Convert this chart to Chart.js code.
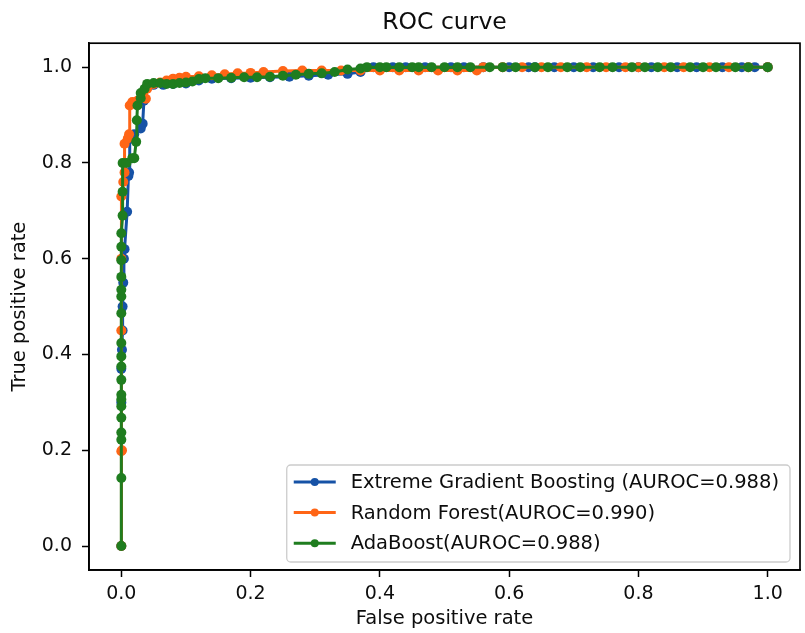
<!DOCTYPE html>
<html>
<head>
<meta charset="utf-8">
<script src="https://cdn.jsdelivr.net/npm/chart.js@4.4.0/dist/chart.umd.min.js"></script>
<style>
  html, body { margin: 0; padding: 0; background: #fff; }
  #wrap { width: 805px; height: 633px; }
</style>
</head>
<body>
<div id="wrap"><canvas id="canvasRoc" width="805" height="633"></canvas></div>
<script>
const seriesLabels = [
    "Extreme Gradient Boosting (AUROC=0.988)",
    "Random Forest(AUROC=0.990)",
    "AdaBoost(AUROC=0.988)"
]
const seriesColors = ["#1652a6", "#ff6516", "#1f7d1f"]
const tickValues = [0, 0.2, 0.4, 0.6, 0.8, 1.0]

// Extreme Gradient Boosting
const fprXgb = [0, 0, 0, 0.001, 0.002, 0.002, 0.003, 0.004, 0.005, 0.009, 0.011, 0.012, 0.013, 0.02, 0.03, 0.033, 0.035, 0.038, 0.042, 0.05, 0.065, 0.08, 0.1, 0.12, 0.14, 0.17, 0.2, 0.23, 0.26, 0.29, 0.32, 0.35, 0.37, 0.39, 0.42, 0.44, 0.47, 0.51, 0.53, 0.56, 0.6, 0.63, 0.64, 0.67, 0.7, 0.73, 0.77, 0.8, 0.82, 0.86, 0.89, 0.93, 0.96, 0.98, 1.0]
const tprXgb = [0, 0.3, 0.37, 0.41, 0.45, 0.5, 0.55, 0.6, 0.62, 0.698, 0.773, 0.78, 0.85, 0.86, 0.872, 0.882, 0.93, 0.955, 0.962, 0.963, 0.963, 0.965, 0.966, 0.972, 0.976, 0.977, 0.978, 0.979, 0.98, 0.982, 0.984, 0.986, 0.99, 1.0, 1.0, 1.0, 1.0, 1.0, 1.0, 1.0, 1.0, 1.0, 1.0, 1.0, 1.0, 1.0, 1.0, 1.0, 1.0, 1.0, 1.0, 1.0, 1.0, 1.0, 1.0]

// Random Forest
const fprRf = [0, 0, 0.001, 0, 0, 0, 0.003, 0.005, 0.005, 0.01, 0.012, 0.013, 0.017, 0.025, 0.038, 0.04, 0.05, 0.06, 0.07, 0.08, 0.09, 0.1, 0.12, 0.14, 0.16, 0.18, 0.2, 0.22, 0.25, 0.28, 0.31, 0.34, 0.37, 0.4, 0.43, 0.46, 0.49, 0.52, 0.55, 0.56, 0.59, 0.62, 0.65, 0.68, 0.72, 0.75, 0.78, 0.8, 0.84, 0.87, 0.91, 0.94, 0.97, 1.0]
const tprRf = [0, 0.198, 0.2, 0.45, 0.6, 0.73, 0.76, 0.78, 0.84, 0.851, 0.86, 0.92, 0.927, 0.93, 0.934, 0.955, 0.965, 0.968, 0.972, 0.976, 0.978, 0.98, 0.981, 0.983, 0.985, 0.987, 0.988, 0.99, 0.992, 0.993, 0.993, 0.993, 0.993, 0.993, 0.993, 0.993, 0.993, 0.993, 0.993, 1.0, 1.0, 1.0, 1.0, 1.0, 1.0, 1.0, 1.0, 1.0, 1.0, 1.0, 1.0, 1.0, 1.0, 1.0]

// AdaBoost
const fprAda = [0, 0, 0, 0, 0, 0, 0, 0, 0, 0, 0, 0, 0, 0, 0, 0, 0, 0, 0, 0.002, 0.002, 0.002, 0.008, 0.017, 0.02, 0.023, 0.024, 0.025, 0.03, 0.03, 0.036, 0.04, 0.05, 0.06, 0.07, 0.08, 0.09, 0.1, 0.11, 0.12, 0.13, 0.15, 0.17, 0.19, 0.21, 0.23, 0.25, 0.27, 0.29, 0.31, 0.33, 0.35, 0.37, 0.38, 0.4, 0.41, 0.43, 0.45, 0.46, 0.48, 0.5, 0.52, 0.54, 0.57, 0.59, 0.61, 0.64, 0.66, 0.69, 0.71, 0.74, 0.76, 0.79, 0.81, 0.83, 0.85, 0.88, 0.9, 0.92, 0.95, 0.97, 1.0]
const tprAda = [0, 0.142, 0.222, 0.237, 0.268, 0.292, 0.306, 0.316, 0.347, 0.375, 0.396, 0.424, 0.486, 0.521, 0.535, 0.562, 0.597, 0.625, 0.653, 0.69, 0.74, 0.8, 0.8, 0.81, 0.81, 0.844, 0.889, 0.92, 0.935, 0.946, 0.955, 0.965, 0.967, 0.967, 0.965, 0.965, 0.967, 0.968, 0.97, 0.975, 0.977, 0.977, 0.978, 0.979, 0.979, 0.98, 0.982, 0.984, 0.986, 0.987, 0.99, 0.995, 0.997, 1.0, 1.0, 1.0, 1.0, 1.0, 1.0, 1.0, 1.0, 1.0, 1.0, 1.0, 1.0, 1.0, 1.0, 1.0, 1.0, 1.0, 1.0, 1.0, 1.0, 1.0, 1.0, 1.0, 1.0, 1.0, 1.0, 1.0, 1.0, 1.0]

const FONT = '"DejaVu Sans", sans-serif'
const TEXT_COLOR = "#0d0d0d"

ToPoints = (xs, ys) => xs.map((x, i) => ({ x, y: ys[i] }))

MakeDataset = (idx, xs, ys) => ({
    label: seriesLabels[idx],
    data: ToPoints(xs, ys),
    borderColor: seriesColors[idx],
    backgroundColor: seriesColors[idx],
    pointBackgroundColor: seriesColors[idx],
    pointBorderWidth: 0,
    pointRadius: 5,
    borderWidth: 3,
    showLine: true,
    tension: 0,
    order: 3 - idx
})

// box around axes + legend in the lower right
const frameAndLegend = {
    id: "frameAndLegend",
    afterDatasetsDraw(chart) {
        let { ctx, chartArea } = chart
        ctx.save()
        ctx.strokeStyle = "#000"
        ctx.lineWidth = 1.7
        ctx.strokeRect(chartArea.left, chartArea.top, chartArea.right - chartArea.left, chartArea.bottom - chartArea.top)
        ctx.restore()
    },
    afterDraw(chart) {
        let { ctx, chartArea } = chart
        let sets = chart.data.datasets
        ctx.save()
        ctx.font = "19.5px " + FONT
        let textW = Math.max(...sets.map(d => ctx.measureText(d.label).width))
        let w = 64 + textW + 11
        let h = 97
        let x = chartArea.right - 10 - w
        let y = chartArea.bottom - 8 - h

        ctx.beginPath()
        ctx.roundRect(x, y, w, h, 4)
        ctx.fillStyle = "rgba(255,255,255,0.85)"
        ctx.fill()
        ctx.strokeStyle = "#cccccc"
        ctx.lineWidth = 1.3
        ctx.stroke()

        sets.forEach((d, i) => {
            let cy = y + 17 + i * 30.6
            ctx.strokeStyle = d.borderColor
            ctx.lineWidth = 3
            ctx.beginPath()
            ctx.moveTo(x + 7, cy)
            ctx.lineTo(x + 49, cy)
            ctx.stroke()
            ctx.fillStyle = d.borderColor
            ctx.beginPath()
            ctx.arc(x + 28, cy, 4, 0, Math.PI * 2)
            ctx.fill()
            ctx.fillStyle = TEXT_COLOR
            ctx.textBaseline = "middle"
            ctx.textAlign = "left"
            ctx.fillText(d.label, x + 64, cy + 1)
        })
        ctx.restore()
    }
}

AxisOptions = (titleText, isX) => ({
    type: "linear",
    min: -0.05,
    max: 1.05,
    afterBuildTicks: scale => { scale.ticks = tickValues.map(v => ({ value: v })) },
    afterFit: scale => {
        if (isX) scale.height = 63
        else scale.width = 89
    },
    grid: {
        drawOnChartArea: false,
        drawTicks: true,
        tickLength: 7,
        tickColor: "#000",
        tickWidth: 1.5
    },
    border: { display: true, color: "#000", width: 1.7 },
    ticks: {
        color: TEXT_COLOR,
        padding: isX ? 6 : 10,
        font: { family: FONT, size: 19 },
        callback: v => Number(v).toFixed(1),
        maxRotation: 0
    },
    title: {
        display: true,
        text: titleText,
        color: TEXT_COLOR,
        font: { family: FONT, size: 19.5 },
        padding: isX ? { top: 0, bottom: 2 } : { top: 8, bottom: 0 }
    }
})

CreateChart = canvasId => {
    new Chart(canvasId, {
        type: "scatter",
        data: {
            datasets: [
                MakeDataset(0, fprXgb, tprXgb),
                MakeDataset(1, fprRf, tprRf),
                MakeDataset(2, fprAda, tprAda)
            ]
        },
        options: {
            responsive: false,
            animation: false,
            devicePixelRatio: 1,
            layout: { padding: { left: 0, right: 4, top: 0, bottom: 0 } },
            scales: {
                x: AxisOptions("False positive rate", true),
                y: AxisOptions("True positive rate", false)
            },
            plugins: {
                legend: { display: false },
                tooltip: { enabled: false },
                title: {
                    display: true,
                    text: "ROC curve",
                    fullSize: false,
                    color: TEXT_COLOR,
                    font: { family: FONT, size: 23.5, weight: "normal" },
                    padding: { top: 9, bottom: 6 }
                }
            }
        },
        plugins: [frameAndLegend]
    })
}

CreateChart(document.getElementById("canvasRoc"))
</script>
</body>
</html>
